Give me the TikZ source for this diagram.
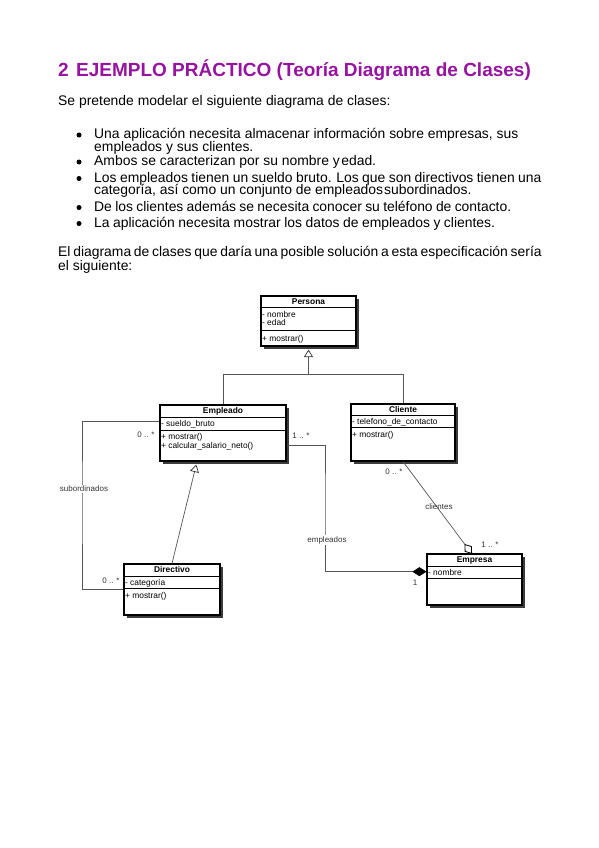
\documentclass[tikz,border=0pt]{standalone}
\usepackage{fontspec}
\setmainfont{Liberation Sans}
\usetikzlibrary{arrows.meta,shadows,calc}
\definecolor{titlepurple}{RGB}{150,20,160}
\definecolor{conncol}{RGB}{85,85,85}
\definecolor{shadowcol}{RGB}{60,60,60}
\newcommand\wsp[1]{\spaceskip=#1\relax}
\begin{document}
\begin{tikzpicture}[x=1pt,y=-1pt,
  body/.style={anchor=base west, inner sep=0, font=\fontsize{13.9}{15}\selectfont},
  bulletdot/.style={circle, fill=black, inner sep=0, minimum size=5pt},
  classbox/.style={draw=black, line width=1.2pt, fill=white, inner sep=0,
    drop shadow={shadow xshift=3pt, shadow yshift=-3pt, fill=shadowcol, opacity=1}},
  sepline/.style={draw=black, line width=0.9pt},
  ctext/.style={font=\fontsize{8.4}{9}\selectfont, inner sep=0, anchor=mid west},
  ctitle/.style={font=\bfseries\fontsize{8.4}{9}\selectfont, inner sep=0, anchor=mid},
  conn/.style={draw=conncol, line width=0.7pt},
  gentip/.style={-{Triangle[open, length=7.5pt, width=9pt, fill=white, color=black!80]}},
  comptip/.style={-{Diamond[length=14pt, width=9pt, color=black]}},
  aggshape/.style={draw=black, line width=0.8pt, fill=white},
  lbl/.style={font=\fontsize{8}{9}\selectfont, text=black!80, inner sep=1pt}
]
\useasboundingbox[fill=white] (0,0) rectangle (599,848);

% ---------- text ----------
\node[anchor=base west, inner sep=0, font=\bfseries\fontsize{19}{22}\selectfont, text=titlepurple] (title) at (58,76.5)
  {2\hspace{7.4pt}EJEMPLO PRÁCTICO (Teoría Diagrama de Clases)};
\node[body] (intro) at (58,106) {Se pretende modelar el siguiente diagrama de clases:};

\node[bulletdot] (d1) at (79,135) {};
\node[body] (t1a) at (94,138.5) {Una aplicación necesita almacenar información sobre empresas, sus};
\node[body] (t1b) at (94,151) {empleados y sus clientes.};
\node[bulletdot] (d2) at (79,162) {};
\node[body] (t2) at (94,165.5) {Ambos se caracterizan por su nombre y\hspace{1.5pt}edad.};
\node[bulletdot] (d3) at (79,178.5) {};
\node[body] (t3a) at (94,182) {\wsp{3.45pt}Los empleados tienen un sueldo bruto. Los que son directivos tienen una};
\node[body] (t3b) at (94,194.5) {categoría, así como un conjunto de empleados\hspace{1pt}subordinados.};
\node[bulletdot] (d4) at (79,207.5) {};
\node[body] (t4) at (94,211) {\wsp{3.3pt}De los clientes además se necesita conocer su teléfono de contacto.};
\node[bulletdot] (d5) at (79,223.5) {};
\node[body] (t5) at (94,227) {\wsp{3.5pt}La aplicación necesita mostrar los datos de empleados y clientes.};

\node[body] (p1) at (58,256) {\wsp{2.75pt}El diagrama de clases que daría una posible solución a esta especificación sería};
\node[body] (p2) at (58,270) {el siguiente:};

% ---------- classes ----------
% Persona
\node[classbox, minimum width=95pt, minimum height=50pt] (persona) at (308.5,321) {};
\draw[sepline] ($(persona.north west)+(0,12)$) -- ($(persona.north east)+(0,12)$);
\draw[sepline] ($(persona.north west)+(0,35)$) -- ($(persona.north east)+(0,35)$);
\node[ctitle] (persona-t) at ($(persona.north)+(0,6.5)$) {Persona};
\node[ctext] (persona-a1) at ($(persona.north west)+(1.5,19)$) {- nombre};
\node[ctext] (persona-a2) at ($(persona.north west)+(1.5,27.5)$) {- edad};
\node[ctext] (persona-m1) at ($(persona.north west)+(1.5,43)$) {+ mostrar()};

% Empleado
\node[classbox, minimum width=126pt, minimum height=56pt] (empleado) at (223,433) {};
\draw[sepline] ($(empleado.north west)+(0,13)$) -- ($(empleado.north east)+(0,13)$);
\draw[sepline] ($(empleado.north west)+(0,26)$) -- ($(empleado.north east)+(0,26)$);
\node[ctitle] (empleado-t) at ($(empleado.north)+(0,6.5)$) {Empleado};
\node[ctext] (empleado-a1) at ($(empleado.north west)+(1.5,19.5)$) {- sueldo\_bruto};
\node[ctext] (empleado-m1) at ($(empleado.north west)+(1.5,32.5)$) {+ mostrar()};
\node[ctext] (empleado-m2) at ($(empleado.north west)+(1.5,41.5)$) {+ calcular\_salario\_neto()};

% Cliente
\node[classbox, minimum width=104pt, minimum height=57pt] (cliente) at (403,432.5) {};
\draw[sepline] ($(cliente.north west)+(0,12)$) -- ($(cliente.north east)+(0,12)$);
\draw[sepline] ($(cliente.north west)+(0,24)$) -- ($(cliente.north east)+(0,24)$);
\node[ctitle] (cliente-t) at ($(cliente.north)+(0,6)$) {Cliente};
\node[ctext] (cliente-a1) at ($(cliente.north west)+(1.5,18.5)$) {- telefono\_de\_contacto};
\node[ctext] (cliente-m1) at ($(cliente.north west)+(1.5,31)$) {+ mostrar()};

% Directivo
\node[classbox, minimum width=96pt, minimum height=51pt] (directivo) at (172,589.5) {};
\draw[sepline] ($(directivo.north west)+(0,13)$) -- ($(directivo.north east)+(0,13)$);
\draw[sepline] ($(directivo.north west)+(0,25)$) -- ($(directivo.north east)+(0,25)$);
\node[ctitle] (directivo-t) at ($(directivo.north)+(0,6.5)$) {Directivo};
\node[ctext] (directivo-a1) at ($(directivo.north west)+(1.5,19)$) {- categoría};
\node[ctext] (directivo-m1) at ($(directivo.north west)+(1.5,32.5)$) {+ mostrar()};

% Empresa
\node[classbox, minimum width=95pt, minimum height=51pt] (empresa) at (474.5,579.5) {};
\draw[sepline] ($(empresa.north west)+(0,13)$) -- ($(empresa.north east)+(0,13)$);
\draw[sepline] ($(empresa.north west)+(0,25)$) -- ($(empresa.north east)+(0,25)$);
\node[ctitle] (empresa-t) at ($(empresa.north)+(0,6.5)$) {Empresa};
\node[ctext] (empresa-a1) at ($(empresa.north west)+(1.5,19)$) {- nombre};

% ---------- connectors ----------
\coordinate (genj) at ($(persona.south)+(0,28)$);
\draw[conn, gentip] (genj) -- ($(persona.south)+(0,3)$);
\draw[conn] (empleado.north) |- (genj) -| (cliente.north);

\draw[conn, gentip] (directivo.north) -- ($($(empleado.south west)!0.29!(empleado.south east)$)+(0,3)$);

\coordinate (subx) at (82,500);
\draw[conn] ($(empleado.north west)!0.3!(empleado.south west)$) -| (subx) |- (directivo.west);
\node[lbl, fill=white] (sublbl) at (84,489) {subordinados};
\node[lbl] (m-emp0) at (146,435) {0 .. *};
\node[lbl] (m-dir0) at (111,581) {0 .. *};

\coordinate (empx) at (325,500);
\draw[conn, comptip] ($(empleado.north east)!0.714!(empleado.south east)$) -| (empx) |- ($(empresa.north west)!0.35!(empresa.south west)$);
\node[lbl, fill=white] (emplbl) at (327,540) {empleados};
\node[lbl] (m-emp1) at (301,436) {1 .. *};
\node[lbl] (m-empr1) at (415,583) {1};

% clientes (aggregation, hollow diamond at Empresa)
\coordinate (aggend) at ($(empresa.north west)!0.47!(empresa.north east)$);
\coordinate (aggback) at ($(aggend)!11pt!(cliente.south)$);
\coordinate (aggmid) at ($(aggend)!5.5pt!(cliente.south)$);
\coordinate (aggl) at ($(aggmid)!4pt!90:(aggend)$);
\coordinate (aggr) at ($(aggmid)!4pt!-90:(aggend)$);
\draw[conn] (cliente.south) -- (aggback);
\draw[aggshape] (aggend) -- (aggl) -- (aggback) -- (aggr) -- cycle;
\node[lbl] (clilbl) at (439,507) {clientes};
\node[lbl] (m-cli0) at (394,472) {0 .. *};
\node[lbl] (m-empr2) at (490,545) {1 .. *};
\end{tikzpicture}
\end{document}
